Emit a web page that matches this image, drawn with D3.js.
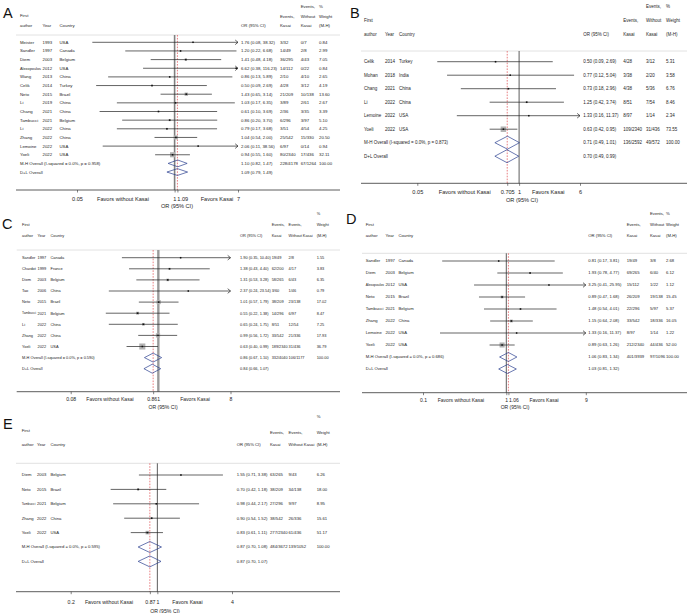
<!DOCTYPE html>
<html><head><meta charset="utf-8">
<script src="https://cdn.jsdelivr.net/npm/d3@7"></script>
<style>body{margin:0;background:#fff}svg{display:block}</style>
</head><body>
<svg id="c" width="687" height="613"></svg>
<script>
// ---------------- Panel A ----------------
const A_author = ["Meister","Sandler","Diem","Alexopoulos","Wang","Celik","Neto","Li","Chang","Tambucci","Li","Zhang","Lemoine","Yoeli"];
const A_year = [1993,1997,2003,2012,2013,2014,2015,2019,2021,2021,2022,2022,2022,2022];
const A_country = ["USA","Canada","Belgium","USA","China","Turkey","Brazil","China","China","Belgium","China","China","USA","USA"];
const A_or = [1.76,1.20,1.41,6.62,0.86,0.50,1.43,1.03,0.61,0.86,0.79,1.04,2.06,0.94];
const A_lo = [0.08,0.22,0.48,0.38,0.13,0.09,0.65,0.17,0.10,0.20,0.17,0.54,0.11,0.55];
const A_hi = [38.32,6.68,4.18,116.23,5.89,2.69,3.14,6.35,3.69,3.70,3.68,2.00,38.56,1.60];
const A_evK = ["3/32","14/49","36/295","14/112","2/10","4/28","21/209","3/89","2/36","6/296","3/51","25/542","6/97","80/2340"];
const A_evW = ["0/7","2/8","4/43","0/22","4/10","3/12","10/138","2/61","3/35","3/97","4/54","15/330","0/14","17/436"];
const A_wt = [0.84,2.99,7.05,0.84,2.65,4.19,13.60,2.67,3.39,5.10,4.25,20.50,0.94,32.11];
const A_mh = [1.10,0.82,1.47];
const A_mhEv = ["228/4178","67/1264"];
const A_het = [0.0,0.958];
const A_dl = [1.09,0.79,1.49];
const A_pooled = 1.09;
const A_ticks = [0.05,1,1.09,7];

// ---------------- Panel B ----------------
const B_author = ["Celik","Mohan","Chang","Li","Lemoine","Yoeli"];
const B_year = [2014,2018,2021,2022,2022,2022];
const B_country = ["Turkey","India","China","China","USA","USA"];
const B_or = [0.50,0.77,0.73,1.25,1.33,0.63];
const B_lo = [0.09,0.12,0.18,0.42,0.16,0.42];
const B_hi = [2.69,5.04,2.96,3.74,11.37,0.95];
const B_evK = ["4/28","3/38","4/38","8/51","8/97","109/2340"];
const B_evW = ["3/12","2/20","5/36","7/54","1/14","31/436"];
const B_wt = [5.31,3.58,6.76,8.46,2.34,73.55];
const B_mh = [0.71,0.49,1.01];
const B_mhEv = ["136/2592","49/572"];
const B_het = [0.0,0.873];
const B_dl = [0.70,0.49,0.99];
const B_pooled = 0.705;
const B_ticks = [0.05,0.705,1,6];

// ---------------- Panel C ----------------
const C_author = ["Sandler","Chardot","Diem","Tao","Neto","Tambucci","Li","Zhang","Yoeli"];
const C_year = [1997,1999,2003,2006,2015,2021,2022,2022,2022];
const C_country = ["Canada","France","Belgium","China","Brazil","Belgium","China","China","USA"];
const C_or = [1.90,1.38,1.31,2.37,1.01,0.55,0.65,0.99,0.63];
const C_lo = [0.35,0.43,0.53,0.24,0.57,0.22,0.24,0.56,0.40];
const C_hi = [10.40,4.40,3.28,23.54,1.79,1.38,1.75,1.72,0.99];
const C_evK = ["19/49","62/200","58/265","3/60","38/209","14/296","8/51","33/542","189/2340"];
const C_evW = ["2/8","4/17","6/43","1/46","23/138","6/97","12/54","21/336","31/436"];
const C_wt = [1.55,3.83,6.35,0.79,17.02,8.47,7.25,17.93,36.79];
const C_mh = [0.86,0.67,1.10];
const C_mhEv = ["332/4040","106/1177"];
const C_het = [0.0,0.590];
const C_dl = [0.84,0.66,1.07];
const C_pooled = 0.861;
const C_ticks = [0.08,0.861,8];

// ---------------- Panel D ----------------
const D_author = ["Sandler","Diem","Alexopoulos","Neto","Tambucci","Zhang","Lemoine","Yoeli"];
const D_year = [1997,2003,2012,2015,2021,2022,2022,2022];
const D_country = ["Canada","Belgium","USA","Brazil","Belgium","China","USA","USA"];
const D_or = [0.81,1.93,3.25,0.89,1.48,1.15,1.33,0.89];
const D_lo = [0.17,0.78,0.41,0.47,0.54,0.64,0.16,0.63];
const D_hi = [3.81,4.77,25.95,1.68,4.01,2.08,11.37,1.26];
const D_evK = ["19/49","69/265","15/112","26/209","22/296","33/542","8/97","212/2340"];
const D_evW = ["3/8","6/40","1/22","19/138","5/97","18/336","1/14","44/436"];
const D_wt = [2.68,6.12,1.12,15.45,5.37,16.05,1.22,52.00];
const D_mh = [1.06,0.83,1.34];
const D_mhEv = ["401/3939","97/1096"];
const D_het = [0.0,0.686];
const D_dl = [1.03,0.81,1.32];
const D_pooled = 1.06;
const D_ticks = [0.1,1,1.06,9];

// ---------------- Panel E ----------------
const E_author = ["Diem","Neto","Tambucci","Zhang","Yoeli"];
const E_year = [2003,2015,2021,2022,2022];
const E_country = ["Belgium","Brazil","Belgium","China","USA"];
const E_or = [1.55,0.70,0.98,0.90,0.83];
const E_lo = [0.71,0.42,0.44,0.54,0.61];
const E_hi = [3.38,1.18,2.17,1.52,1.11];
const E_evK = ["63/265","38/209","27/296","38/542","277/2340"];
const E_evW = ["9/43","34/138","9/97","26/336","61/436"];
const E_wt = [6.26,18.00,8.95,15.61,51.17];
const E_mh = [0.87,0.70,1.08];
const E_mhEv = ["484/3672","139/1052"];
const E_het = [0.0,0.595];
const E_dl = [0.87,0.70,1.07];
const E_pooled = 0.87;
const E_ticks = [0.2,0.87,1,4];

const REG = "'Liberation Sans', Arial, Helvetica, sans-serif";
const svg = d3.select("#c");
const f2 = v => v.toFixed(2);
const ciTxt = (o,l,h) => `${f2(o)} (${f2(l)}, ${f2(h)})`;

function drawPanel(L, D) {
  const g = svg.append("g");
  const tmin = d3.min(D.ticks), tmax = d3.max(D.ticks);
  const x = d3.scaleLog().domain([tmin, tmax]).range(L.xr);
  const n = D.author.length;
  const yr = i => L.y0 + i * L.step;
  const T = (tx, ty, s, o = {}) => {
    const fs = o.fs || L.fs;
    const t = g.append("text")
      .attr("x", tx).attr("y", ty).attr("dy", "0.35em")
      .attr("font-size", fs).attr("fill", "#1e1e1e")
      .attr("text-anchor", o.anchor || "start")
      .attr("font-family", REG).text(s);
    if (o.maxW) {
      const w = t.node().getComputedTextLength();
      if (w > o.maxW) t.attr("font-size", (fs * o.maxW / w).toFixed(2));
    }
    return t;
  };
  const wA = L.cols[1] - L.cols[0] - 1.5, wY = L.cols[2] - L.cols[1] - 1.5;

  // panel letter
  g.append("text").attr("x", L.letter[0]).attr("y", L.letter[1])
    .attr("font-size", 14.5).attr("font-family", REG).attr("fill", "#111").text(L.name);

  // headers
  T(L.cols[0], L.fy[0], "First");
  T(L.cols[0], L.fy[1], "author", {maxW: wA});
  T(L.cols[1], L.fy[1], "Year", {maxW: wY});
  T(L.cols[2], L.fy[1], "Country");
  T(L.rc[0], L.hy[2], "OR (95% CI)");
  T(L.rc[1], L.hy[1], "Events,");
  T(L.rc[1], L.hy[2], "Kasai");
  if (L.hdr3) {
    T(L.rc[2], L.hy[0], "Events,");
    T(L.rc[2], L.hy[1], "Without");
    T(L.rc[2], L.hy[2], "Kasai");
  } else {
    T(L.rc[2], L.hy[1], "Events,");
    T(L.rc[2], L.hy[2], "Without Kasai");
  }
  T(L.rc[3], L.hy[0], "%");
  T(L.rc[3], L.hy[1], "Weight");
  T(L.rc[3], L.hy[2], "(M-H)");

  // header rule
  g.append("line").attr("x1", L.ax[0]).attr("x2", L.ax[1]).attr("y1", L.hl).attr("y2", L.hl)
    .attr("stroke", "#e2e2e2").attr("stroke-width", 1);

  // null line at 1
  g.append("line").attr("x1", x(1)).attr("x2", x(1)).attr("y1", L.hl).attr("y2", L.axY)
    .attr("stroke", L.nullColor).attr("stroke-width", L.nullW);
  // pooled estimate dashed line
  g.append("line").attr("x1", x(D.pooled)).attr("x2", x(D.pooled)).attr("y1", L.hl).attr("y2", L.axY)
    .attr("stroke", "#e0474c").attr("stroke-width", 0.7).attr("stroke-dasharray", "1.6,1.3");

  // studies
  for (let i = 0; i < n; i++) {
    const yc = yr(i);
    T(L.cols[0], yc, D.author[i], {maxW: wA});
    T(L.cols[1], yc, D.year[i], {maxW: wY});
    T(L.cols[2], yc, D.country[i]);
    T(L.rc[0], yc, ciTxt(D.or[i], D.lo[i], D.hi[i]), {maxW: L.rc[1] - L.rc[0] - 1});
    T(L.rc[1], yc, D.evK[i], {maxW: L.rc[2] - L.rc[1] - 1});
    T(L.rc[2], yc, D.evW[i], {maxW: L.rc[3] - L.rc[2] - 1});
    T(L.rc[3], yc, f2(D.wt[i]));

    const s = L.kb * Math.sqrt(D.wt[i]);
    g.append("rect").attr("x", x(D.or[i]) - s / 2).attr("y", yc - s / 2)
      .attr("width", s).attr("height", s).attr("fill", "#b2b2b2");
    const lo = Math.max(D.lo[i], tmin), hi = Math.min(D.hi[i], tmax);
    g.append("line").attr("x1", x(lo)).attr("x2", x(hi)).attr("y1", yc).attr("y2", yc)
      .attr("stroke", "#222").attr("stroke-width", 0.7);
    if (D.hi[i] > tmax) {
      const xe = x(tmax);
      g.append("path").attr("d", `M${xe - 2.8},${yc - 2.3}L${xe},${yc}L${xe - 2.8},${yc + 2.3}`)
        .attr("fill", "none").attr("stroke", "#222").attr("stroke-width", 0.7);
    }
    g.append("rect").attr("x", x(D.or[i]) - 0.75).attr("y", yc - 0.75)
      .attr("width", 1.5).attr("height", 1.5).attr("fill", "#111");
  }

  // overall rows
  const ym = yr(n), yd = yr(n + 1);
  T(L.cols[0], ym, `M-H Overall  (I-squared = ${D.het[0].toFixed(1)}%, p = ${D.het[1].toFixed(3)})`);
  T(L.cols[0], yd, "D+L Overall");
  T(L.rc[0], ym, ciTxt(D.mh[0], D.mh[1], D.mh[2]), {maxW: L.rc[1] - L.rc[0] - 1});
  T(L.rc[1], ym, D.mhEv[0], {maxW: L.rc[2] - L.rc[1] - 1});
  T(L.rc[2], ym, D.mhEv[1], {maxW: L.rc[3] - L.rc[2] - 1});
  T(L.rc[3], ym, "100.00");
  T(L.rc[0], yd, ciTxt(D.dl[0], D.dl[1], D.dl[2]));
  const h = L.dh;
  [[D.mh, ym], [D.dl, yd]].forEach(([v, yc]) => {
    g.append("path")
      .attr("d", `M${x(v[1])},${yc}L${x(v[0])},${yc - h}L${x(v[2])},${yc}L${x(v[0])},${yc + h}Z`)
      .attr("fill", "none").attr("stroke", "#2a3f8f").attr("stroke-width", 0.7);
  });

  // x axis
  g.append("line").attr("x1", L.ax[0]).attr("x2", L.ax[1]).attr("y1", L.axY).attr("y2", L.axY)
    .attr("stroke", "#333").attr("stroke-width", 0.8);
  const axis = d3.axisBottom(x).tickValues(D.ticks).tickSize(2.5).tickFormat(d3.format("~g"));
  const ag = g.append("g").attr("transform", `translate(0,${L.axY})`).call(axis);
  ag.select(".domain").remove();
  ag.selectAll(".tick line").attr("stroke", "#333").attr("stroke-width", 0.6);
  ag.selectAll(".tick text")
    .attr("y", L.tickY - L.axY).attr("dy", "0.35em")
    .attr("font-size", L.tfs).attr("font-family", REG).attr("fill", "#1e1e1e")
    .each(function(d) {
      const t = d3.select(this);
      if (D.pooled > 1 && D.ticks.includes(1)) {
        if (d === 1) t.attr("text-anchor", "end").attr("x", 1.2);
        if (d === D.pooled) t.attr("text-anchor", "start").attr("x", x(1) - x(d) + 2.2);
      }
    });
  T(L.fav[0], L.tickY, "Favors without Kasai", {fs: L.tfs, anchor: "middle"});
  T(L.fav[1], L.tickY, "Favors Kasai", {fs: L.tfs, anchor: "middle"});
  T(L.title[0], L.title[1], "OR (95% CI)", {fs: L.tfs, anchor: "middle"});
}

const bundle = p => ({
  author: p[0], year: p[1], country: p[2], or: p[3], lo: p[4], hi: p[5],
  evK: p[6], evW: p[7], wt: p[8], mh: p[9], mhEv: p[10], het: p[11], dl: p[12],
  pooled: p[13], ticks: p[14]
});

drawPanel({name: "A", letter: [3, 18], xr: [77, 238], ax: [16, 340], axY: 190, tickY: 199,
  title: [177, 206.5], hl: 35, hy: [6, 16.7, 25], fy: [15.5, 25], y0: 42.3, step: 8.65,
  cols: [20, 42.5, 59.5], rc: [241, 280, 300.7, 319], fs: 4.3, tfs: 5.6, kb: 0.9, dh: 3.4,
  fav: [123, 217], hdr3: true, nullColor: "#808080", nullW: 1.6},
  bundle([A_author,A_year,A_country,A_or,A_lo,A_hi,A_evK,A_evW,A_wt,A_mh,A_mhEv,A_het,A_dl,A_pooled,A_ticks]));

drawPanel({name: "B", letter: [350, 17.5], xr: [417.3, 580], ax: [361, 687], axY: 183.3, tickY: 192.3,
  title: [522, 200.5], hl: 51, hy: [6, 20.7, 34.5], fy: [20.7, 34.5], y0: 61.7, step: 13.5,
  cols: [364, 385, 399], rc: [583.3, 623.3, 646, 666], fs: 4.5, tfs: 5.6, kb: 0.64, dh: 6.5,
  fav: [464.7, 548.3], hdr3: true, nullColor: "#333", nullW: 0.8},
  bundle([B_author,B_year,B_country,B_or,B_lo,B_hi,B_evK,B_evW,B_wt,B_mh,B_mhEv,B_het,B_dl,B_pooled,B_ticks]));

drawPanel({name: "C", letter: [2, 228.5], xr: [70.7, 230.5], ax: [16.7, 340], axY: 391.7, tickY: 399.3,
  title: [163, 407], hl: 250, hy: [213.3, 224.6, 235.7], fy: [224.3, 235.7], y0: 257.7, step: 11.1,
  cols: [22, 37.5, 50.5], rc: [240, 271.7, 288.6, 316.7], fs: 3.9, tfs: 5.1, kb: 1.0, dh: 4.5,
  fav: [110, 195], hdr3: false, nullColor: "#9a9a9a", nullW: 2.4},
  bundle([C_author,C_year,C_country,C_or,C_lo,C_hi,C_evK,C_evW,C_wt,C_mh,C_mhEv,C_het,C_dl,C_pooled,C_ticks]));

drawPanel({name: "D", letter: [346, 223.5], xr: [423, 585.8], ax: [362, 687], axY: 392.7, tickY: 400,
  title: [515, 407.5], hl: 253.3, hy: [213.3, 225, 235.7], fy: [225, 235.7], y0: 261, step: 12,
  cols: [365.7, 385.5, 398.5], rc: [588.3, 626.7, 650, 666], fs: 4.2, tfs: 5.0, kb: 0.7, dh: 4.5,
  fav: [461, 544], hdr3: true, nullColor: "#333", nullW: 0.8},
  bundle([D_author,D_year,D_country,D_or,D_lo,D_hi,D_evK,D_evW,D_wt,D_mh,D_mhEv,D_het,D_dl,D_pooled,D_ticks]));

drawPanel({name: "E", letter: [3, 428.5], xr: [70.7, 232], ax: [16, 340], axY: 591.7, tickY: 601.7,
  title: [165, 611], hl: 463.3, hy: [416.7, 433, 445], fy: [430.7, 444.7], y0: 475, step: 14.4,
  cols: [21.7, 37, 50.5], rc: [236.7, 270, 288.5, 316.7], fs: 4.2, tfs: 5.2, kb: 0.5, dh: 5.5,
  fav: [109, 187.5], hdr3: false, nullColor: "#333", nullW: 0.8},
  bundle([E_author,E_year,E_country,E_or,E_lo,E_hi,E_evK,E_evW,E_wt,E_mh,E_mhEv,E_het,E_dl,E_pooled,E_ticks]));
</script>
</body></html>
